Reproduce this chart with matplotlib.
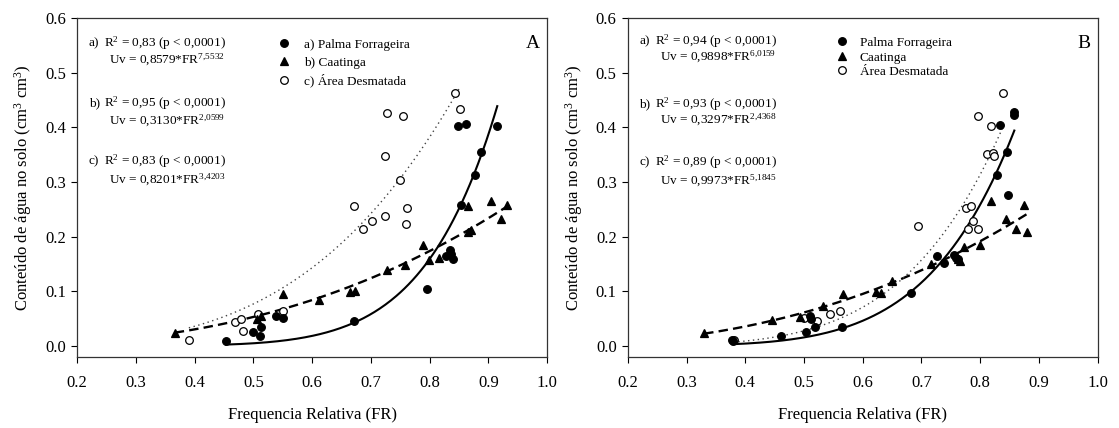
import matplotlib
matplotlib.use('Agg')
import matplotlib.pyplot as plt
import numpy as np

plt.rcParams['font.family'] = ['Liberation Serif', 'DejaVu Serif']
plt.rcParams['mathtext.fontset'] = 'custom'
plt.rcParams['mathtext.rm'] = 'Liberation Serif'
plt.rcParams['mathtext.it'] = 'Liberation Serif:italic'

# ---- panel A data ----
palma_a_fr = [0.453, 0.499, 0.511, 0.513, 0.539, 0.551, 0.671, 0.796, 0.828, 0.834,
              0.836, 0.840, 0.853, 0.849, 0.862, 0.877, 0.888, 0.915]
palma_a_uv = [0.008, 0.026, 0.017, 0.034, 0.055, 0.050, 0.045, 0.103, 0.165, 0.175,
              0.168, 0.158, 0.257, 0.403, 0.406, 0.312, 0.354, 0.403]
caat_a_fr = [0.366, 0.506, 0.512, 0.550, 0.612, 0.665, 0.673, 0.727, 0.758, 0.788,
             0.799, 0.815, 0.865, 0.871, 0.866, 0.905, 0.921, 0.931]
caat_a_uv = [0.024, 0.049, 0.055, 0.094, 0.084, 0.099, 0.101, 0.139, 0.147, 0.184,
             0.157, 0.161, 0.209, 0.212, 0.255, 0.265, 0.232, 0.257]
desm_a_fr = [0.390, 0.468, 0.479, 0.483, 0.507, 0.550, 0.671, 0.687, 0.702, 0.724,
             0.759, 0.762, 0.724, 0.750, 0.727, 0.754, 0.843, 0.851]
desm_a_uv = [0.011, 0.044, 0.049, 0.027, 0.059, 0.064, 0.255, 0.214, 0.228, 0.238,
             0.223, 0.252, 0.348, 0.303, 0.426, 0.420, 0.462, 0.433]

# ---- panel B data ----
palma_b_fr = [0.378, 0.379, 0.461, 0.503, 0.518, 0.511, 0.512, 0.564, 0.682, 0.726,
              0.738, 0.756, 0.759, 0.762, 0.828, 0.834, 0.846, 0.848, 0.857, 0.858]
palma_b_uv = [0.011, 0.008, 0.018, 0.026, 0.034, 0.055, 0.049, 0.035, 0.096, 0.164,
              0.152, 0.166, 0.160, 0.158, 0.313, 0.405, 0.354, 0.276, 0.423, 0.427]
caat_b_fr = [0.330, 0.445, 0.493, 0.532, 0.566, 0.623, 0.631, 0.649, 0.716, 0.762,
             0.766, 0.772, 0.799, 0.818, 0.843, 0.861, 0.875, 0.879]
caat_b_uv = [0.024, 0.048, 0.053, 0.072, 0.094, 0.099, 0.097, 0.119, 0.149, 0.158,
             0.155, 0.181, 0.185, 0.265, 0.232, 0.213, 0.257, 0.208]
desm_b_fr = [0.380, 0.500, 0.522, 0.544, 0.561, 0.694, 0.776, 0.784, 0.787, 0.780,
             0.796, 0.812, 0.822, 0.823, 0.818, 0.797, 0.839]
desm_b_uv = [0.010, 0.050, 0.046, 0.059, 0.064, 0.219, 0.253, 0.255, 0.228, 0.214,
             0.214, 0.351, 0.353, 0.347, 0.403, 0.420, 0.463]

# power fits Uv = a*FR^b as drawn (palma, caatinga, desmatada)
fit_a_coef = [0.8579, 0.305, 0.8201]
fit_a_exp = [7.5532, 2.53, 3.4203]
fit_b_coef = [0.9898, 0.3297, 0.9973]
fit_b_exp = [6.0159, 2.4368, 5.1845]

r2_a = ['0,83', '0,95', '0,83']
eq_a = [('0,8579', '7{,}5532'), ('0,3130', '2{,}0599'), ('0,8201', '3{,}4203')]
r2_b = ['0,94', '0,93', '0,89']
eq_b = [('0,9898', '6{,}0159'), ('0,3297', '2{,}4368'), ('0,9973', '5{,}1845')]

legend_a = ['a) Palma Forrageira', 'b) Caatinga', 'c) Área Desmatada']
legend_b = ['Palma Forrageira', 'Caatinga', 'Área Desmatada']

fig = plt.figure(figsize=(11.19, 4.28), dpi=100)
ax_a = fig.add_axes([0.069, 0.1666, 0.42, 0.7914])
ax_b = fig.add_axes([0.561, 0.1666, 0.42, 0.7914])


def draw_panel(ax, series, coefs, exps, r2s, eqs, labels, letter, text_y, leg_anchor, leg_space, leg_pad):
    styles = [dict(ls='-', lw=1.5, color='black'),
              dict(ls=(0, (4, 2.2)), lw=1.7, color='black'),
              dict(ls=(0, (1, 2.5)), lw=1.0, color='#444444')]
    marks = [dict(marker='o', mfc='black', mec='black'),
             dict(marker='^', mfc='black', mec='black'),
             dict(marker='o', mfc='white', mec='black')]
    zo = [4, 3, 2]
    handles = []
    for i, (fr, uv) in enumerate(series):
        xx = np.linspace(min(fr), max(fr), 200)
        ax.plot(xx, coefs[i] * xx ** exps[i], zorder=1, **styles[i])
        h, = ax.plot(fr, uv, ls='none', ms=5.5, mew=0.9, zorder=zo[i], **marks[i])
        handles.append(h)

    ax.set_xlim(0.2, 1.0)
    ax.set_ylim(-0.02, 0.6)
    ax.set_xticks(np.arange(0.2, 1.01, 0.1))
    ax.set_yticks(np.arange(0.0, 0.61, 0.1))
    ax.xaxis.set_major_formatter(plt.FormatStrFormatter('%.1f'))
    ax.yaxis.set_major_formatter(plt.FormatStrFormatter('%.1f'))
    ax.tick_params(direction='out', length=4.5, width=0.8, labelsize=12, top=False, right=False)
    ax.tick_params(axis='x', pad=9)
    for sp in ax.spines.values():
        sp.set_linewidth(0.9)
        sp.set_color('#333333')
    ax.set_xlabel('Frequencia Relativa (FR)', fontsize=12, labelpad=11)
    ax.set_ylabel('Conteúdo de água no solo (cm$^{3}$ cm$^{3}$)', fontsize=12, labelpad=8)

    tags = ['a)', 'b)', 'c)']
    for i in range(3):
        y1, y2 = text_y[i]
        ax.text(0.025, y1, tags[i], transform=ax.transAxes, fontsize=9.5, va='center')
        ax.text(0.057, y1, 'R$^{2}$ = ' + r2s[i] + ' (p < 0,0001)', transform=ax.transAxes,
                fontsize=9.5, va='center')
        ax.text(0.068, y2, 'Uv = ' + eqs[i][0] + '*FR$^{' + eqs[i][1] + '}$', transform=ax.transAxes,
                fontsize=9.5, va='center')

    ax.text(0.985, 0.925, letter, transform=ax.transAxes, fontsize=14, ha='right', va='center')
    ax.legend(handles, labels, loc='upper left', bbox_to_anchor=leg_anchor, frameon=False,
              fontsize=9.5, handlelength=1.0, handletextpad=leg_pad, labelspacing=leg_space,
              borderaxespad=0)


draw_panel(ax_a,
           [(palma_a_fr, palma_a_uv), (caat_a_fr, caat_a_uv), (desm_a_fr, desm_a_uv)],
           fit_a_coef, fit_a_exp, r2_a, eq_a, legend_a, 'A',
           [(0.926, 0.876), (0.749, 0.696), (0.578, 0.522)], (0.415, 0.955), 0.42, 1.0)
draw_panel(ax_b,
           [(palma_b_fr, palma_b_uv), (caat_b_fr, caat_b_uv), (desm_b_fr, desm_b_uv)],
           fit_b_coef, fit_b_exp, r2_b, eq_b, legend_b, 'B',
           [(0.932, 0.885), (0.746, 0.699), (0.575, 0.519)], (0.43, 0.96), 0.17, 0.85)

fig.savefig('out.png', dpi=100)
